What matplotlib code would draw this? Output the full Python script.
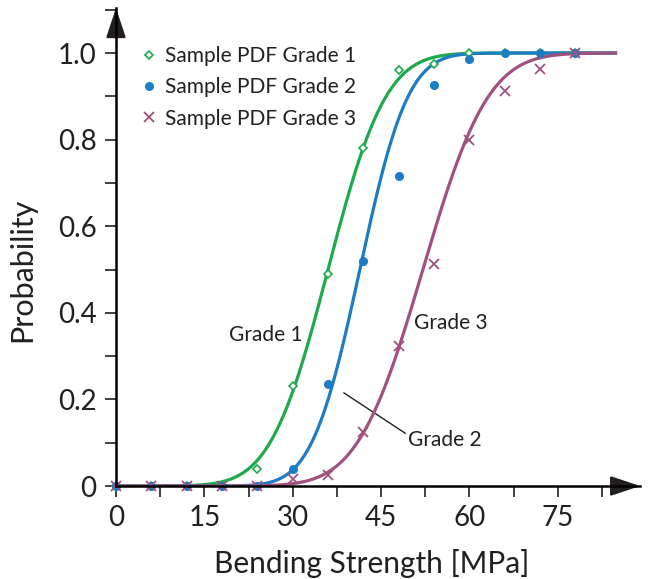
import math
import numpy as np
import matplotlib.pyplot as plt
from matplotlib.ticker import MultipleLocator, FuncFormatter

plt.rcParams['font.family'] = ['Lato', 'DejaVu Sans']

# sample cumulative probabilities per grade
strength = [0, 6, 12, 18, 24, 30, 36, 42, 48, 54, 60, 66, 72, 78]
grade1 = [0, 0, 0, 0, 0.04, 0.23, 0.49, 0.78, 0.96, 0.975, 1.0, 1.0, 1.0, 1.0]
grade2 = [0, 0, 0, 0, 0, 0.04, 0.235, 0.52, 0.716, 0.926, 0.986, 1.0, 1.0, 1.0]
grade3 = [0, 0, 0, 0, 0, 0.016, 0.025, 0.125, 0.323, 0.513, 0.80, 0.912, 0.963, 1.0]

# fitted normal distributions (mean, std) in MPa
fit_mean = [36.0, 41.4, 52.1]
fit_std = [7.7, 6.4, 8.7]

colors = ['#1eaa4c', '#1c7cc4', '#a1517d']

norm_cdf = np.vectorize(lambda x, m, s: 0.5 * (1 + math.erf((x - m) / (s * math.sqrt(2)))))
xs = np.linspace(0, 84.8, 400)

fig = plt.figure(figsize=(6.48, 5.79), dpi=100)
ax = fig.add_axes([0.179, 0.1606, 0.809, 0.8256])

for m, s, c in zip(fit_mean, fit_std, colors):
    ax.plot(xs, norm_cdf(xs, m, s), color=c, lw=2.3, zorder=2)

ax.plot(strength, grade1, 'D', mfc='white', mec=colors[0], mew=1.2, ms=4.5,
        ls='none', clip_on=False, zorder=3, label='Sample PDF Grade 1')
ax.plot(strength, grade2, 'o', color=colors[1], ms=5.5, ls='none',
        clip_on=False, zorder=3, label='Sample PDF Grade 2')
ax.plot(strength, grade3, 'x', color=colors[2], mew=1.3, ms=6.5, ls='none',
        clip_on=False, zorder=3, label='Sample PDF Grade 3')

ax.set_xlim(0, 89)
ax.set_ylim(0, 1.104)

for side in ['top', 'right']:
    ax.spines[side].set_visible(False)
for side in ['left', 'bottom']:
    ax.spines[side].set_linewidth(1.8)
    ax.spines[side].set_zorder(4)

# arrow heads at the axis ends
ax.annotate('', xy=(1.0, 0), xytext=(0.96, 0), xycoords='axes fraction',
            arrowprops=dict(arrowstyle='-|>,head_length=1.8,head_width=0.6',
                            color='#231f20', lw=1.8, shrinkA=0, shrinkB=0))
ax.annotate('', xy=(0, 1.0), xytext=(0, 0.96), xycoords='axes fraction',
            arrowprops=dict(arrowstyle='-|>,head_length=1.8,head_width=0.6',
                            color='#231f20', lw=1.8, shrinkA=0, shrinkB=0))

ax.xaxis.set_minor_locator(MultipleLocator(7.5))
ax.yaxis.set_minor_locator(MultipleLocator(0.1))
ax.set_xticks([15 * i for i in range(6)])
ax.set_yticks([0.2 * i for i in range(6)])
ax.yaxis.set_major_formatter(FuncFormatter(lambda v, p: '0' if abs(v) < 1e-9 else f'{v:.1f}'))

ax.tick_params(axis='both', which='both', direction='out', width=1.2,
               color='#231f20', labelcolor='#231f20', labelsize=20)
ax.tick_params(axis='both', which='major', length=8, pad=6)
ax.tick_params(axis='both', which='minor', length=8)

ax.set_xlabel('Bending Strength [MPa]', fontsize=21.5, color='#231f20', va='center')
ax.set_ylabel('Probability', fontsize=22, color='#231f20', va='center')
ax.xaxis.set_label_coords(0.487, -0.162)
ax.yaxis.set_label_coords(-0.179, 0.452)

ax.text(25.4, 0.349, 'Grade 1', fontsize=15, color='#231f20', ha='center', va='center')
ax.text(56.9, 0.376, 'Grade 3', fontsize=15, color='#231f20', ha='center', va='center')
ax.text(49.6, 0.106, 'Grade 2', fontsize=15, color='#231f20', ha='left', va='center')
ax.plot([38.7, 49.1], [0.215, 0.122], color='#231f20', lw=1.0, zorder=1)

ax.legend(loc='upper left', bbox_to_anchor=(0.01, 0.96), frameon=False,
          fontsize=15, handlelength=0.9, handletextpad=0.3, labelspacing=0.55,
          labelcolor='#231f20')

fig.savefig('out.png', dpi=100)
